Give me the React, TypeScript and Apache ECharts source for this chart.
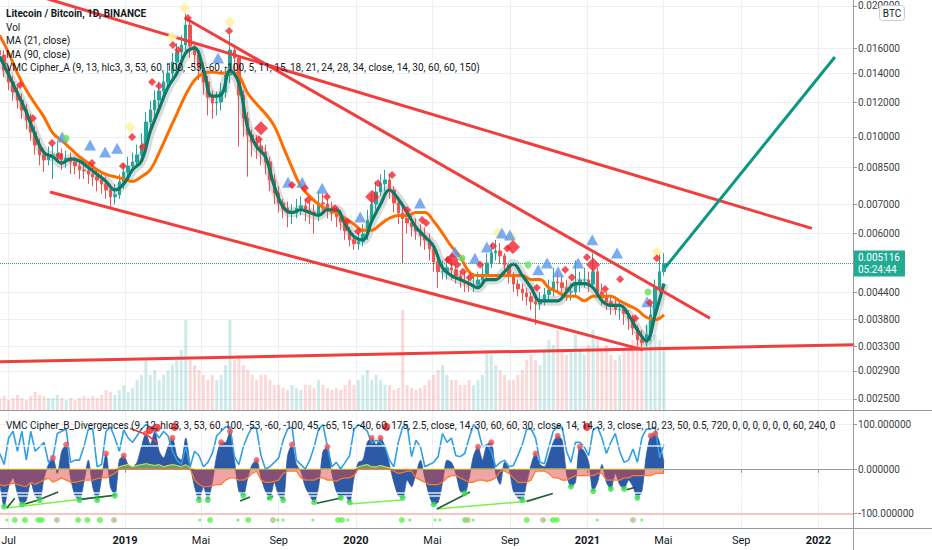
import React, { useEffect, useRef } from "react";
import * as echarts from "echarts";

const DAY = 86400000;
const START = Date.UTC(2018, 5, 17); // first weekly candle
const T2019 = Date.UTC(2019, 0, 1);
const X_MIN = T2019 - 197.6 * DAY;
const X_MAX = T2019 + 1150.8 * DAY;
const wk = (i: number) => START + i * 7 * DAY;

// ---------- price (weekly candles, LTC/BTC) ----------
const firstOpen = 0.0158;
const closes = [
  0.01542, 0.01424, 0.01337, 0.01268, 0.01215, 0.01153, 0.01093, 0.01026, 0.00958, 0.00909,
  0.00885, 0.00909, 0.00909, 0.00915, 0.00885, 0.00893, 0.00876, 0.00857, 0.00839, 0.00835,
  0.00821, 0.00809, 0.00796, 0.0078, 0.00755, 0.00728, 0.00736, 0.00788, 0.0083, 0.00857,
  0.00876, 0.00909, 0.00958, 0.01082, 0.01153, 0.01215, 0.01275, 0.01337, 0.01402, 0.01486,
  0.01567, 0.01626, 0.01807, 0.01617, 0.01542, 0.01439, 0.01337, 0.01234, 0.01196, 0.01202,
  0.01268, 0.01387, 0.01583, 0.01517, 0.01248, 0.01104, 0.0101, 0.00974, 0.00953, 0.00923,
  0.00876, 0.00796, 0.00743, 0.00705, 0.00685, 0.00668, 0.00668, 0.00685, 0.00694, 0.00679,
  0.00672, 0.00665, 0.00705, 0.00701, 0.00685, 0.00668, 0.00655, 0.00638, 0.00608, 0.0058,
  0.00568, 0.00574, 0.00598, 0.00644, 0.00701, 0.00747, 0.0078, 0.00796, 0.00755, 0.00705,
  0.00668, 0.00649, 0.00634, 0.00621, 0.00608, 0.00592, 0.0058, 0.00553, 0.00516, 0.0049,
  0.0049, 0.005, 0.00495, 0.00479, 0.00467, 0.00462, 0.00457, 0.00457, 0.00469, 0.00484,
  0.00513, 0.00541, 0.00547, 0.00533, 0.00508, 0.00484, 0.00459, 0.00447, 0.00438, 0.00429,
  0.00418, 0.00413, 0.00422, 0.00434, 0.00445, 0.00464, 0.00462, 0.0045, 0.0044, 0.0044,
  0.00457, 0.00469, 0.00469, 0.00459, 0.0049, 0.0044, 0.00427, 0.00418, 0.00409, 0.00401,
  0.00401, 0.00393, 0.00382, 0.00364, 0.00342, 0.00337, 0.00351, 0.0039, 0.0045, 0.0049,
  0.005116,
];
const highs = [
  0.0163, 0.0158, 0.0146, 0.0138, 0.0131, 0.0126, 0.0119, 0.0113, 0.0106, 0.0099,
  0.0094, 0.0095, 0.0096, 0.0097, 0.0094, 0.0093, 0.0092, 0.009, 0.0088, 0.0088,
  0.0087, 0.0085, 0.0084, 0.0083, 0.0081, 0.0078, 0.0078, 0.0082, 0.0087, 0.009,
  0.0092, 0.0096, 0.0102, 0.0114, 0.0121, 0.0128, 0.0134, 0.0141, 0.0148, 0.0156,
  0.0164, 0.0171, 0.0192, 0.0185, 0.0165, 0.0158, 0.0148, 0.0138, 0.0128, 0.0127,
  0.0133, 0.0145, 0.0172, 0.0162, 0.0154, 0.0128, 0.0114, 0.0104, 0.0101, 0.0099,
  0.0096, 0.009, 0.0082, 0.0077, 0.0072, 0.0071, 0.007, 0.0072, 0.0073, 0.0072,
  0.0071, 0.007, 0.0075, 0.0074, 0.0072, 0.0071, 0.0069, 0.0068, 0.0065, 0.0062,
  0.006, 0.006, 0.0063, 0.0068, 0.0074, 0.0079, 0.0082, 0.0084, 0.0082, 0.0077,
  0.0072, 0.007, 0.0068, 0.0066, 0.0065, 0.0063, 0.0062, 0.006, 0.0057, 0.0053,
  0.0052, 0.0053, 0.0052, 0.0051, 0.0049, 0.0049, 0.0048, 0.0048, 0.0049, 0.0051,
  0.0054, 0.0057, 0.0058, 0.0057, 0.0054, 0.0051, 0.0049, 0.0047, 0.0046, 0.0045,
  0.0044, 0.0043, 0.0044, 0.0045, 0.0047, 0.005, 0.0049, 0.0048, 0.0047, 0.0046,
  0.0052, 0.0049, 0.005, 0.0049, 0.0054, 0.005, 0.0046, 0.0044, 0.0043, 0.0043,
  0.0042, 0.0041, 0.004, 0.0039, 0.0037, 0.0036, 0.0037, 0.0041, 0.0047, 0.0054,
  0.0054,
];
const lows = [
  0.0149, 0.0137, 0.0128, 0.0121, 0.0116, 0.011, 0.0104, 0.0098, 0.0091, 0.0086,
  0.0083, 0.0086, 0.008, 0.0087, 0.0084, 0.0085, 0.0082, 0.0082, 0.008, 0.008,
  0.0078, 0.0077, 0.0075, 0.0074, 0.0072, 0.0069, 0.007, 0.0072, 0.0076, 0.008,
  0.0083, 0.0085, 0.0088, 0.0094, 0.0104, 0.011, 0.0117, 0.0122, 0.0129, 0.0135,
  0.0143, 0.015, 0.0156, 0.0152, 0.0145, 0.0135, 0.0125, 0.0112, 0.011, 0.0112,
  0.0115, 0.0123, 0.0133, 0.0141, 0.0095, 0.01, 0.0081, 0.009, 0.0089, 0.0086,
  0.0082, 0.0075, 0.007, 0.0067, 0.0065, 0.0062, 0.0063, 0.0065, 0.0066, 0.0064,
  0.0063, 0.006, 0.0064, 0.0067, 0.0065, 0.0064, 0.0062, 0.0061, 0.0058, 0.0056,
  0.0055, 0.0055, 0.0056, 0.0058, 0.0063, 0.0068, 0.0073, 0.0075, 0.0072, 0.0067,
  0.0063, 0.0051, 0.006, 0.0059, 0.0058, 0.0056, 0.0055, 0.0052, 0.0049, 0.0045,
  0.0047, 0.0047, 0.0047, 0.0046, 0.0045, 0.0044, 0.0044, 0.0044, 0.0045, 0.0046,
  0.0047, 0.005, 0.0052, 0.0051, 0.0049, 0.0046, 0.0044, 0.0043, 0.0042, 0.0041,
  0.004, 0.0037, 0.004, 0.0041, 0.0042, 0.0043, 0.0044, 0.0043, 0.0042, 0.0042,
  0.0043, 0.0044, 0.0045, 0.0044, 0.0045, 0.0043, 0.0041, 0.004, 0.0039, 0.0039,
  0.0038, 0.0037, 0.0036, 0.0035, 0.0033, 0.00328, 0.0033, 0.0034, 0.0038, 0.0044,
  0.0048,
];
const volumes = [
  12, 14, 10, 12, 15, 12, 10, 14, 18, 15,
  14, 12, 12, 15, 12, 10, 12, 10, 12, 14,
  12, 14, 12, 15, 20, 18, 15, 20, 25, 18,
  22, 30, 35, 50, 35, 40, 30, 35, 40, 45,
  50, 60, 90, 50, 45, 40, 35, 30, 35, 30,
  35, 45, 90, 50, 55, 45, 40, 35, 30, 35,
  35, 30, 25, 25, 22, 20, 25, 22, 20, 25,
  25, 22, 30, 25, 22, 20, 22, 20, 25, 30,
  25, 30, 35, 40, 30, 35, 30, 25, 25, 20,
  22, 100, 25, 22, 20, 22, 25, 30, 35, 40,
  45, 35, 30, 30, 25, 25, 30, 25, 30, 35,
  60, 55, 45, 40, 35, 30, 30, 35, 40, 50,
  55, 50, 45, 60, 70, 65, 80, 60, 55, 60,
  75, 60, 55, 65, 80, 70, 60, 65, 55, 50,
  55, 60, 65, 70, 75, 80, 85, 80, 75, 70,
  60,
];
// moving averages, read every second week
const ma21 = [
  0.0153, 0.0139, 0.0126, 0.0114, 0.0101, 0.0092, 0.009, 0.0087, 0.0089, 0.0088,
  0.0085, 0.0082, 0.0079, 0.00755, 0.0078, 0.0084, 0.0088, 0.0103, 0.0116, 0.013,
  0.014, 0.0156, 0.016, 0.0143, 0.0124, 0.0125, 0.0142, 0.0133, 0.0105, 0.0095,
  0.009, 0.0077, 0.0069, 0.0067, 0.0068, 0.0067, 0.0066, 0.0068, 0.0068, 0.0063,
  0.0059, 0.0058, 0.0064, 0.007, 0.00755, 0.0072, 0.0067, 0.0062, 0.0059, 0.0056,
  0.005, 0.0048, 0.0047, 0.0046, 0.0045, 0.0047, 0.0047, 0.0049, 0.0051, 0.0048,
  0.0045, 0.0042, 0.0042, 0.0042, 0.0044, 0.0046, 0.0046, 0.0045, 0.0042, 0.0041,
  0.0041, 0.0039, 0.0036, 0.0034, 0.0039, 0.0046,
];
const ma90 = [
  0.0171, 0.0156, 0.014, 0.0128, 0.0119, 0.0111, 0.0102, 0.0098, 0.0094, 0.009,
  0.0087, 0.0084, 0.0082, 0.0081, 0.008, 0.0079, 0.0081, 0.0084, 0.0092, 0.0102,
  0.0113, 0.0125, 0.0135, 0.014, 0.0141, 0.014, 0.0141, 0.0138, 0.0126, 0.0119,
  0.0113, 0.0106, 0.0095, 0.0085, 0.0077, 0.0073, 0.007, 0.0068, 0.0067, 0.0065,
  0.0063, 0.0061, 0.0061, 0.0063, 0.0065, 0.0066, 0.0066, 0.0067, 0.0067, 0.0064,
  0.006, 0.0056, 0.0053, 0.0049, 0.0048, 0.0048, 0.0048, 0.0048, 0.0048, 0.0048,
  0.0047, 0.0047, 0.0045, 0.0044, 0.0043, 0.0043, 0.0042, 0.0043, 0.0043, 0.0043,
  0.0042, 0.0041, 0.004, 0.00385, 0.0038, 0.0039,
];
const currentPrice = 0.005116;
const countdown = "05:24:44";

// user drawn lines: [week, price]
const redTrendLines = [
  [[9.1, 0.021], [183.4, 0.00616]],
  [[41.8, 0.01875], [160.4, 0.00383]],
  [[11.35, 0.00747], [145.3, 0.00324]],
  [[-1, 0.00304], [193, 0.00333]],
];
const greenProjection = [[150.2, 0.005], [188.6, 0.01526]];

// Cipher A signals: [week, price]
const blueTriangles = [
  [14.1, 0.00999], [20.4, 0.00958], [23.8, 0.00923], [26.5, 0.00942], [49.3, 0.01517],
  [65.1, 0.00787], [68.3, 0.00787], [72.8, 0.00762], [81.4, 0.00654], [94.9, 0.00705],
  [102.8, 0.00544], [107.3, 0.00526], [110, 0.00558], [113.4, 0.00601], [115.2, 0.00595],
  [121.6, 0.00495], [123.6, 0.00513], [126.1, 0.0049], [130.6, 0.00513], [133.8, 0.0058],
  [139.4, 0.00541], [146.2, 0.00418],
];
const redDiamonds = [
  [4.6, 0.01316], [7.5, 0.01104], [11.8, 0.00968], [13.4, 0.00904], [20.8, 0.00871],
  [27.8, 0.00857], [29.9, 0.00999], [32.3, 0.00948], [34.4, 0.01337], [36, 0.01308],
  [39.1, 0.01626], [40.3, 0.01583], [42.5, 0.01875], [51.8, 0.01751], [58.5, 0.00987],
  [66, 0.00775], [68.9, 0.00762], [69.6, 0.00716], [73.9, 0.00728], [75.7, 0.00685],
  [78.4, 0.00638], [80.9, 0.00607], [85.4, 0.00782], [88.6, 0.00817], [92, 0.00679],
  [95.4, 0.00644], [96.3, 0.00634], [101.2, 0.00522], [103.3, 0.00508], [104.6, 0.0049],
  [106.2, 0.00476], [108.5, 0.00508], [111.4, 0.00561], [114.6, 0.00554], [121.3, 0.0045],
  [127.7, 0.00495], [129.2, 0.00476], [132.6, 0.00529], [136.7, 0.00447], [140.1, 0.00471],
  [143.5, 0.00383], [146.8, 0.00416], [148.4, 0.00526],
];
const bigRedDiamonds = [[59, 0.01047], [84.1, 0.00728], [102.1, 0.00522], [115.9, 0.00558], [134, 0.00508]];
const yellowDiamonds = [
  [41.8, 0.01977], [52, 0.01836], [29.4, 0.01053], [38.9, 0.01696], [112.5, 0.00601],
  [115.7, 0.00589], [148.4, 0.00544],
];
const greenCircles = [[15, 0.00993], [104.4, 0.00526], [119.3, 0.00508], [146.4, 0.0044]];

// ---------- VMC Cipher B (weekly) ----------
const waveBlue = [
  -29, -85, -40, -20, -55, -80, -70, -30, -60, -70,
  -20, 10, 25, -10, 40, 55, -20, -60, -70, -30,
  20, -40, -70, -20, 35, -40, -60, 20, 30, 10,
  5, 15, 50, 80, 55, 85, 40, 25, 50, 70,
  30, 20, 70, 10, -40, -70, -40, -70, -30, 30,
  60, 60, 85, 20, -50, -60, -20, 10, 20, -20,
  -50, -65, -30, -60, -70, 30, 55, 10, -5, -40,
  -60, -75, -40, 40, 50, -10, -50, -65, -60, -75,
  -20, 15, 20, 60, 70, 55, 70, 50, 10, -30,
  -60, -65, -25, -40, -10, 20, -20, -60, -80, -75,
  -30, 20, 15, -10, -50, -55, -20, 30, 50, 20,
  55, 60, -10, -35, 15, 0, -50, -65, -70, -30,
  10, 35, 10, 5, 30, 60, 75, 65, -10, -40,
  -30, 50, 40, 15, -50, -30, 10, -30, -45, -10,
  -35, -45, -25, -40, -65, -50, 30, 75, 80, 60,
  15,
];
const waveLight = [
  35, 10, 70, 85, 40, 85, 20, 85, 40, 50,
  60, 15, 25, 80, 85, 90, 15, 20, 20, 50,
  90, 90, 5, 10, 85, 95, 70, 40, 88, 70,
  60, 75, 90, 100, 95, 85, 70, 85, 75, 40,
  20, 10, 50, 5, 40, 30, 5, 15, 35, 75,
  85, 95, 95, 28, 10, 50, 75, 95, 90, 30,
  0, 5, 15, 25, 65, 90, 95, 20, 10, 0,
  20, 50, 90, 100, 50, 5, 15, 0, 15, 30,
  90, 100, 95, 85, 58, 65, 60, 50, 20, 5,
  60, 95, 100, 28, 65, 50, 5, 10, 15, 28,
  80, 60, 70, 30, 28, 35, 70, 100, 90, 50,
  55, 40, 5, 15, 20, 5, 8, 30, 55, 90,
  90, 70, 15, 12, 50, 85, 95, 95, 40, 15,
  60, 60, 50, 30, 88, 95, 70, 35, 60, 80,
  40, 15, 20, 45, 15, 70, 90, 90, 95, 25,
  55,
];
const moneyFlow = [
  -35, -38, -35, -32, -35, -38, -40, -30, -35, -30,
  -25, -20, -30, -25, -20, -25, -30, -30, -28, -25,
  -25, -25, -22, -20, -20, -15, -10, 5, 8, 10,
  5, 8, 10, 12, 10, 8, 10, 5, 8, 10,
  8, 5, 10, 3, -25, -35, -40, -40, -38, -35,
  -35, -25, -20, -20, -25, -25, -20, -10, -5, -25,
  -30, -30, -28, -25, -10, -5, -5, -5, -20, -25,
  -25, -25, -20, -20, -25, -25, -28, -22, -20, -20,
  -15, 5, 8, 10, 5, 5, 8, 5, 3, -5,
  -10, -8, -5, -5, -20, -25, -30, -35, -35, -35,
  -30, -20, -15, -15, -20, -25, -30, -30, -25, -25,
  -28, -25, -20, -5, -5, -10, -20, -30, -30, -30,
  -25, -5, -5, -5, -10, -20, -20, -25, -25, -20,
  -15, -15, -15, -15, -15, -10, -10, -25, -25, -25,
  -25, -20, -20, -15, -15, -15, -15, -15, -10, -10,
  -10,
];
const oscLevels = [53, -53, -60];
const oscRedWeeks = [12, 15, 24, 28, 33, 39, 50, 52, 58, 66, 74, 84, 86, 108, 111, 121, 126, 131, 147, 148];
const oscGreenWeeks = [1, 5, 9, 18, 22, 26, 45, 47, 55, 61, 64, 71, 77, 79, 91, 98, 105, 118, 129, 134, 138, 141, 144];
const oscBigRed = [[33.9, 88], [35.5, 93], [39.5, 95], [87.3, 95], [132.6, 95]];
const redDivergence = [[29.4, 92], [33.2, 77], [35.7, 59]];
const lightGreenDiv = [
  [[1.6, -88], [26, -59]],
  [[79.1, -79], [90.8, -70]],
  [[98.7, -90], [119, -73]],
];
const darkGreenDiv = [
  [[1.6, -88], [3.4, -66]],
  [[5.7, -79], [8.7, -70], [13.2, -52]],
  [[17.7, -69], [26, -59]],
  [[54.3, -72], [56.5, -63]],
  [[60.4, -68], [61.7, -61]],
  [[71.6, -77], [76.8, -66]],
  [[98.7, -90], [106.2, -52]],
  [[119, -73], [124.9, -55]],
  [[141.6, -47], [143.5, -41]],
];
const bottomDotLevel = -115;
const dotGreen = [3.4, 5.7, 8.7, 9.5, 17.7, 19.8, 22.6, 47.5, 56.1, 76.4, 77.3, 90.8, 105.1, 119, 124.9, 125.8];
const dotOlive = [12.9, 25.8, 61.7, 105.7, 122.7, 143];
const dotSmall = [1.6, 45.2, 53.8, 62.8, 64, 70.7, 78.6, 92.6, 98.3, 99.4, 106.9, 134.9, 145];

// ---------- axis ticks ----------
const priceTicks = [0.0025, 0.0029, 0.0033, 0.0038, 0.0044, 0.006, 0.007, 0.0085, 0.01, 0.012, 0.014, 0.016, 0.02];
const oscTicks = [-100, 0, 100];
const timeTicks = [
  Date.UTC(2018, 6, 1), Date.UTC(2019, 0, 1), Date.UTC(2019, 4, 1), Date.UTC(2019, 8, 1),
  Date.UTC(2020, 0, 1), Date.UTC(2020, 4, 1), Date.UTC(2020, 8, 1), Date.UTC(2021, 0, 1),
  Date.UTC(2021, 4, 1), Date.UTC(2021, 8, 1), Date.UTC(2022, 0, 1),
];
const monthNames: Record<number, string> = { 4: "Mai", 6: "Jul", 8: "Sep" };

const titleLines = [
  "Vol",
  "MA (21, close)",
  "MA (90, close)",
  "VMC Cipher_A (9, 13, hlc3, 3, 53, 60, 100, -53, -60, -100, 5, 11, 15, 18, 21, 24, 28, 34, close, 14, 30, 60, 60, 150)",
];
const oscTitle =
  "VMC Cipher_B_Divergences (9, 12, hlc3, 3, 53, 60, 100, -53, -60, -100, 45, -65, 15, -40, 60, 175, 2.5, close, 14, 30, 60, 60, 30, close, 14, 14, 3, 3, close, 10, 23, 50, 0.5, 720, 0, 0, 0, 0, 0, 0, 60, 240, 0";

const FONT = "Roboto, 'Noto Sans', sans-serif";
const TEXT = "#131722";
const AXIS = "#9598a1";
const GRID = "#eceff5";

export default function App() {
  const ref = useRef<HTMLDivElement>(null);

  useEffect(() => {
    const chart = echarts.init(ref.current!, null, { renderer: "svg" });
    const toPt = (p: number[]) => [wk(p[0]), p[1]];

    const candleData = closes.map((c, i) => {
      const o = i === 0 ? firstOpen : closes[i - 1];
      return [wk(i), o, c, lows[i], highs[i]];
    });
    const volData = volumes.map((v, i) => {
      const o = i === 0 ? firstOpen : closes[i - 1];
      return {
        value: [wk(i), v],
        itemStyle: { color: closes[i] >= o ? "rgba(38,166,154,0.22)" : "rgba(239,83,80,0.22)" },
      };
    });

    const xAxisFor = (gridIndex: number) => ({
      type: "value",
      gridIndex,
      min: X_MIN,
      max: X_MAX,
      axisLine: { show: gridIndex === 2, lineStyle: { color: AXIS } },
      axisTick: { show: gridIndex === 2, customValues: timeTicks, length: 4, lineStyle: { color: AXIS } },
      axisLabel: {
        show: gridIndex === 2,
        customValues: timeTicks,
        fontFamily: FONT,
        fontSize: 11,
        color: TEXT,
        margin: 7,
        formatter: (v: number) => {
          const d = new Date(v);
          const m = d.getUTCMonth();
          if (m === 0) return `{b|${d.getUTCFullYear()}}`;
          return monthNames[m] || "";
        },
        rich: { b: { fontWeight: "bold", fontSize: 11, color: TEXT, fontFamily: FONT } },
      },
      splitLine: { show: gridIndex !== 1, lineStyle: { color: GRID, width: 1 } },
    });

    const lineSeries = (data: number[][], color: string, width: number, z: number, extra: any = {}) => ({
      type: "line",
      xAxisIndex: 0,
      yAxisIndex: 0,
      data,
      symbol: "none",
      lineStyle: { color, width },
      z,
      silent: true,
      ...extra,
    });

    const series: any[] = [
      {
        type: "bar",
        name: "Vol",
        xAxisIndex: 1,
        yAxisIndex: 1,
        data: volData,
        barWidth: 3,
        z: 1,
        silent: true,
      },
      // Cipher A ribbon (grey band following the fast average)
      lineSeries(ma21.map((v, k) => [wk(2 * k), v]), "rgba(125,128,138,0.28)", 10, 2, { smooth: 0.4 }),
      {
        type: "candlestick",
        name: "LTCBTC",
        xAxisIndex: 0,
        yAxisIndex: 0,
        data: candleData,
        encode: { x: 0, y: [1, 2, 3, 4] },
        barWidth: 3,
        z: 3,
        silent: true,
        itemStyle: {
          color: "#26a69a",
          color0: "#ef5350",
          borderColor: "#26a69a",
          borderColor0: "#ef5350",
          borderWidth: 1,
        },
        markLine: {
          silent: true,
          symbol: "none",
          data: [[{ coord: [X_MIN, currentPrice] }, { coord: [X_MAX, currentPrice] }]],
          lineStyle: { type: "dotted", color: "#26a69a", width: 1 },
          label: {
            show: true,
            position: "end",
            distance: 0,
            formatter: `${currentPrice.toFixed(6)}\n${countdown}`,
            backgroundColor: "#22ab94",
            color: "#ffffff",
            fontFamily: FONT,
            fontSize: 10,
            lineHeight: 12,
            padding: [1, 5, 1, 5],
          },
        },
      },
      lineSeries(ma90.map((v, k) => [wk(2 * k), v]), "#ff6d00", 3, 4, { smooth: 0.4, name: "MA90" }),
      lineSeries(ma21.map((v, k) => [wk(2 * k), v]), "#0d7a66", 3.2, 4, { smooth: 0.4, name: "MA21" }),
      ...redTrendLines.map((l) => lineSeries(l.map(toPt), "#f23d3d", 3, 5)),
      lineSeries(greenProjection.map(toPt), "#0b9780", 3, 5),
      {
        type: "scatter",
        xAxisIndex: 0,
        yAxisIndex: 0,
        data: yellowDiamonds.map(toPt),
        symbol: "diamond",
        symbolSize: 11,
        itemStyle: { color: "#fff3a6", opacity: 0.9 },
        z: 6,
        silent: true,
      },
      {
        type: "scatter",
        xAxisIndex: 0,
        yAxisIndex: 0,
        data: blueTriangles.map(toPt),
        symbol: "triangle",
        symbolSize: [12, 11],
        itemStyle: { color: "#5b97ec" },
        z: 6,
        silent: true,
      },
      {
        type: "scatter",
        xAxisIndex: 0,
        yAxisIndex: 0,
        data: redDiamonds.map(toPt),
        symbol: "diamond",
        symbolSize: 8,
        itemStyle: { color: "#f5222d" },
        z: 7,
        silent: true,
      },
      {
        type: "scatter",
        xAxisIndex: 0,
        yAxisIndex: 0,
        data: bigRedDiamonds.map(toPt),
        symbol: "diamond",
        symbolSize: 14,
        itemStyle: { color: "#f5222d" },
        z: 7,
        silent: true,
      },
      {
        type: "scatter",
        xAxisIndex: 0,
        yAxisIndex: 0,
        data: greenCircles.map(toPt),
        symbol: "circle",
        symbolSize: 7,
        itemStyle: { color: "#66e05a" },
        z: 7,
        silent: true,
      },
      // ---------- oscillator ----------
      {
        type: "line",
        xAxisIndex: 2,
        yAxisIndex: 2,
        data: waveBlue.map((v, i) => [wk(i), v]),
        symbol: "none",
        smooth: 0.25,
        lineStyle: { color: "#2c5aa6", width: 0.8 },
        areaStyle: { color: "#2c5aa6", opacity: 1 },
        z: 2,
        silent: true,
      },
      {
        type: "line",
        xAxisIndex: 2,
        yAxisIndex: 2,
        data: moneyFlow.map((v, i) => [wk(i), Math.min(v, 0)]),
        symbol: "none",
        lineStyle: { color: "#ff7a2a", width: 1.2 },
        areaStyle: { color: "rgba(226,70,70,0.7)" },
        z: 3,
        silent: true,
        markLine: {
          silent: true,
          symbol: "none",
          label: { show: false },
          lineStyle: { color: "rgba(255,255,255,0.85)", width: 1.5, type: "solid" },
          data: oscLevels.map((v) => ({ yAxis: v })),
        },
      },
      {
        type: "line",
        xAxisIndex: 2,
        yAxisIndex: 2,
        data: moneyFlow.map((v, i) => [wk(i), Math.max(v, 0)]),
        symbol: "none",
        lineStyle: { color: "#f4e842", width: 1 },
        areaStyle: { color: "rgba(150,225,60,0.75)" },
        z: 3,
        silent: true,
        markLine: {
          silent: true,
          symbol: "none",
          label: { show: false },
          lineStyle: { color: "#f9c4c4", width: 2, type: "solid" },
          data: [{ yAxis: -100 }],
        },
      },
      {
        type: "line",
        xAxisIndex: 2,
        yAxisIndex: 2,
        data: waveLight.map((v, i) => [wk(i), v]),
        symbol: "none",
        lineStyle: { color: "#2f9fe6", width: 1.6 },
        z: 4,
        silent: true,
      },
      ...lightGreenDiv.map((seg) => ({
        type: "line",
        xAxisIndex: 2,
        yAxisIndex: 2,
        data: seg.map(toPt),
        symbol: "none",
        lineStyle: { color: "#7cf04a", width: 1.6 },
        z: 5,
        silent: true,
      })),
      ...darkGreenDiv.map((seg) => ({
        type: "line",
        xAxisIndex: 2,
        yAxisIndex: 2,
        data: seg.map(toPt),
        symbol: "none",
        lineStyle: { color: "#1d5e35", width: 1.6 },
        z: 5,
        silent: true,
      })),
      {
        type: "line",
        xAxisIndex: 2,
        yAxisIndex: 2,
        data: redDivergence.map(toPt),
        symbol: "none",
        lineStyle: { color: "#e53935", width: 1.6 },
        z: 5,
        silent: true,
      },
      {
        type: "scatter",
        xAxisIndex: 2,
        yAxisIndex: 2,
        data: oscRedWeeks.map((w) => [wk(w), waveBlue[w]]),
        symbolSize: 6,
        itemStyle: { color: "#f0514f" },
        z: 6,
        silent: true,
      },
      {
        type: "scatter",
        xAxisIndex: 2,
        yAxisIndex: 2,
        data: oscGreenWeeks.map((w) => [wk(w), waveBlue[w]]),
        symbolSize: 6,
        itemStyle: { color: "#38e04c" },
        z: 6,
        silent: true,
      },
      {
        type: "scatter",
        xAxisIndex: 2,
        yAxisIndex: 2,
        data: oscBigRed.map(toPt),
        symbolSize: 8,
        itemStyle: { color: "#f01e1e" },
        z: 6,
        silent: true,
      },
      {
        type: "scatter",
        xAxisIndex: 2,
        yAxisIndex: 2,
        data: dotGreen.map((w) => [wk(w), bottomDotLevel]),
        symbolSize: 6,
        itemStyle: { color: "#5cf04a" },
        z: 6,
        silent: true,
      },
      {
        type: "scatter",
        xAxisIndex: 2,
        yAxisIndex: 2,
        data: dotOlive.map((w) => [wk(w), bottomDotLevel]),
        symbolSize: 6,
        itemStyle: { color: "#b5bd8c" },
        z: 6,
        silent: true,
      },
      {
        type: "scatter",
        xAxisIndex: 2,
        yAxisIndex: 2,
        data: dotSmall.map((w) => [wk(w), bottomDotLevel]),
        symbolSize: 3,
        itemStyle: { color: "#5cf04a" },
        z: 6,
        silent: true,
      },
    ];

    const graphic: any[] = [
      {
        type: "text",
        x: 6,
        y: 13,
        z: 50,
        style: { text: "Litecoin / Bitcoin, 1D, BINANCE", font: `bold 10px ${FONT}`, fill: TEXT, verticalAlign: "middle" },
      },
      ...titleLines.map((t, k) => ({
        type: "text",
        x: 6,
        y: 27 + k * 13.6,
        z: 50,
        style: { text: t, font: `10px ${FONT}`, fill: TEXT, verticalAlign: "middle" },
      })),
      {
        type: "text",
        x: 6,
        y: 425,
        z: 50,
        style: { text: oscTitle, font: `10px ${FONT}`, fill: TEXT, verticalAlign: "middle" },
      },
      { type: "line", shape: { x1: 0, y1: 410.5, x2: 932, y2: 410.5 }, style: { stroke: AXIS, lineWidth: 1 }, z: 90 },
      { type: "line", shape: { x1: 0, y1: 528.5, x2: 932, y2: 528.5 }, style: { stroke: AXIS, lineWidth: 1 }, z: 90 },
      { type: "line", shape: { x1: 853.5, y1: 0, x2: 853.5, y2: 550 }, style: { stroke: AXIS, lineWidth: 1 }, z: 90 },
      {
        type: "rect",
        shape: { x: 879.5, y: 5.5, width: 25, height: 15, r: 3 },
        style: { fill: "#ffffff", stroke: "#c8cbd3", lineWidth: 1 },
        z: 95,
      },
      {
        type: "text",
        x: 892,
        y: 13.5,
        z: 96,
        style: { text: "BTC", font: `10px ${FONT}`, fill: TEXT, align: "center", verticalAlign: "middle" },
      },
    ];

    const option: any = {
      animation: false,
      backgroundColor: "#ffffff",
      textStyle: { fontFamily: FONT },
      grid: [
        { left: 0, top: 0, width: 853, height: 410, outerBoundsMode: "none", containLabel: false },
        { left: 0, top: 310, width: 853, height: 100, outerBoundsMode: "none", containLabel: false },
        { left: 0, top: 410, width: 853, height: 118, outerBoundsMode: "none", containLabel: false },
      ],
      xAxis: [xAxisFor(0), xAxisFor(1), xAxisFor(2)],
      yAxis: [
        {
          type: "log",
          gridIndex: 0,
          position: "right",
          min: 0.002357,
          max: 0.02063,
          axisLine: { show: false },
          axisTick: { show: true, customValues: priceTicks, length: 4, lineStyle: { color: AXIS } },
          axisLabel: {
            customValues: priceTicks,
            formatter: (v: number) => v.toFixed(6),
            fontFamily: FONT,
            fontSize: 10,
            color: "#3c3f47",
            margin: 5,
          },
          splitLine: { show: true, lineStyle: { color: GRID } },
        },
        {
          type: "value",
          gridIndex: 1,
          min: 0,
          max: 100,
          show: false,
          splitLine: { show: false },
        },
        {
          type: "value",
          gridIndex: 2,
          position: "right",
          min: -133,
          max: 133,
          axisLine: { show: false },
          axisTick: { show: true, customValues: oscTicks, length: 4, lineStyle: { color: AXIS } },
          axisLabel: {
            customValues: oscTicks,
            formatter: (v: number) => v.toFixed(6),
            fontFamily: FONT,
            fontSize: 10,
            color: "#3c3f47",
            margin: 5,
          },
          splitLine: { show: true, lineStyle: { color: GRID } },
        },
      ],
      series,
      graphic,
    };

    chart.setOption(option);
    return () => chart.dispose();
  }, []);

  return (
    <div
      ref={ref}
      style={{ position: "absolute", left: 0, top: 0, width: 932, height: 550, background: "#ffffff" }}
    />
  );
}
